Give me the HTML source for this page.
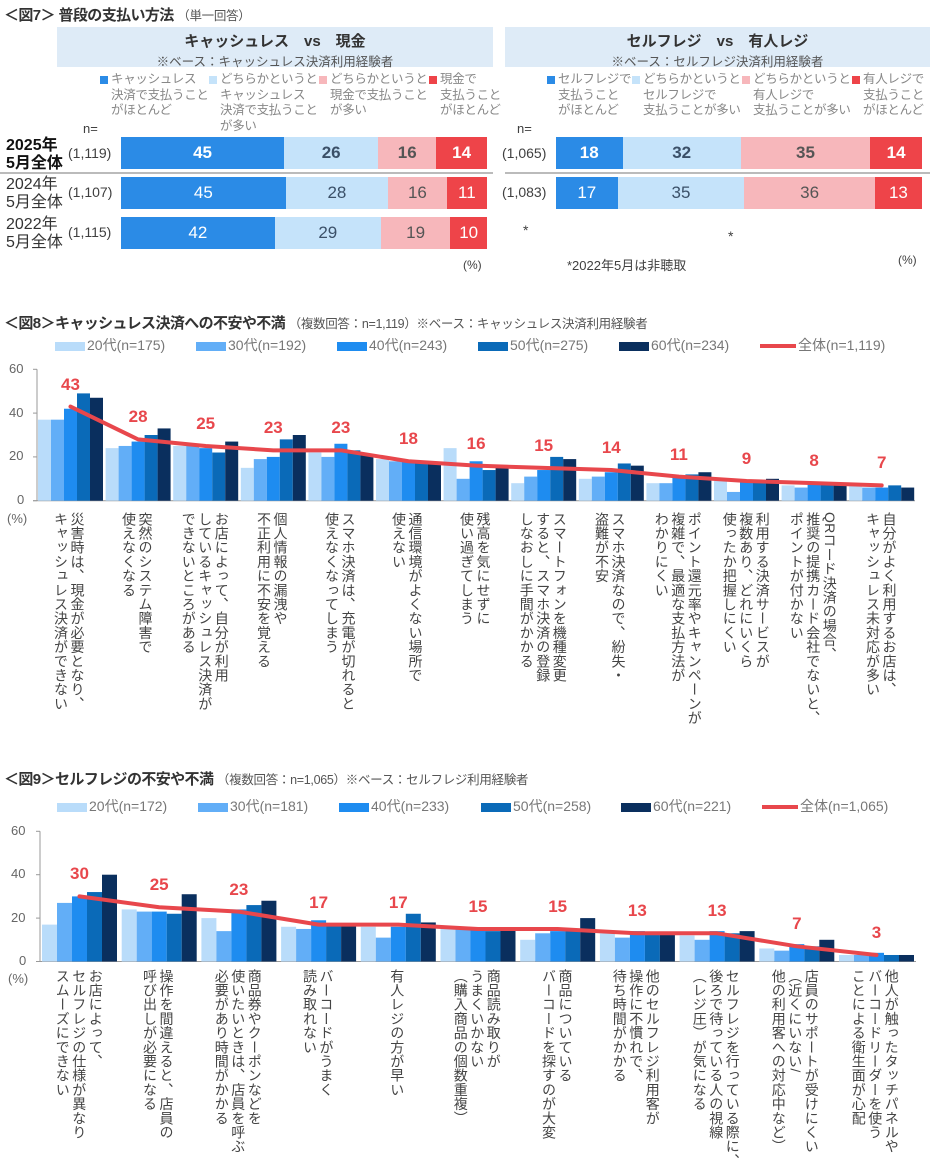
<!DOCTYPE html>
<html><head><meta charset="utf-8">
<style>
*{margin:0;padding:0;box-sizing:border-box}
body{width:934px;height:1169px;background:#fff;position:relative;overflow:hidden;font-family:"Liberation Sans","Noto Sans CJK JP",sans-serif;color:#404040}
.a{position:absolute;white-space:nowrap}
.t{font-weight:bold;font-size:15px;color:#333;letter-spacing:-0.6px}
.t small{font-weight:normal;font-size:12.5px;color:#555;letter-spacing:-0.3px}
.hdr{position:absolute;background:#deebf7;text-align:center;color:#333}
.hdr b{display:block;font-size:15px;margin-top:3px}
.hdr span{display:block;font-size:12.5px;color:#555}
.lg7{position:absolute;font-size:12.5px;line-height:15.5px;color:#888;white-space:pre;letter-spacing:-0.3px}
.lg7 i{position:absolute;left:-11px;top:4px;width:8px;height:8px}
.bar{position:absolute;display:flex;height:32px}
.bar div{height:100%;display:flex;align-items:center;justify-content:center;font-size:17px}
.b1{background:#2b8be6;color:#fff}.b2{background:#c5e3fa;color:#3b5068}.b3{background:#f7b7bb;color:#555}.b4{background:#ee4449;color:#fff}
.bold div{font-weight:bold}
.rl{position:absolute;font-size:16px;line-height:18px;color:#333}
.rl b{font-size:16px;display:block;font-weight:normal}
.lg{position:absolute;font-size:14px;color:#777}
.lg i{display:inline-block;width:30px;height:9px;vertical-align:middle;margin-right:2px}
.v{position:absolute;transform:translate(-50%,-50%);font-weight:bold;font-size:17px;color:#e8474c}
.vl{position:absolute;writing-mode:vertical-rl;font-size:14px;line-height:16.5px;color:#444;transform:translateX(-50%);white-space:nowrap;letter-spacing:0.2px}
.ax{position:absolute;font-size:13px;color:#666}
</style></head><body>

<div class="a t" style="left:4px;top:4px">＜図7＞ 普段の支払い方法 <small>（単一回答）</small></div>

<div class="hdr" style="left:57px;top:27px;width:436px;height:40px"><b>キャッシュレス　vs　現金</b><span>※ベース：キャッシュレス決済利用経験者</span></div>
<div class="hdr" style="left:505px;top:27px;width:425px;height:40px"><b>セルフレジ　vs　有人レジ</b><span>※ベース：セルフレジ決済利用経験者</span></div>

<div class="lg7" style="left:111px;top:72px"><i style="background:#2b8be6"></i>キャッシュレス
決済で支払うこと
がほとんど</div>
<div class="lg7" style="left:220px;top:72px"><i style="background:#c5e3fa"></i>どちらかというと
キャッシュレス
決済で支払うこと
が多い</div>
<div class="lg7" style="left:330px;top:72px"><i style="background:#f7b7bb"></i>どちらかというと
現金で支払うこと
が多い</div>
<div class="lg7" style="left:440px;top:72px"><i style="background:#ee4449"></i>現金で
支払うこと
がほとんど</div>

<div class="lg7" style="left:558px;top:72px"><i style="background:#2b8be6"></i>セルフレジで
支払うこと
がほとんど</div>
<div class="lg7" style="left:643px;top:72px"><i style="background:#c5e3fa"></i>どちらかというと
セルフレジで
支払うことが多い</div>
<div class="lg7" style="left:753px;top:72px"><i style="background:#f7b7bb"></i>どちらかというと
有人レジで
支払うことが多い</div>
<div class="lg7" style="left:863px;top:72px"><i style="background:#ee4449"></i>有人レジで
支払うこと
がほとんど</div>

<div class="a" style="left:83px;top:121px;font-size:13px">n=</div>
<div class="a" style="left:517px;top:121px;font-size:13px">n=</div>

<div class="rl" style="left:6px;top:137px;color:#111"><b style="font-weight:bold">2025年</b><b style="font-weight:bold">5月全体</b></div>
<div class="rl" style="left:6px;top:176px"><b>2024年</b><b>5月全体</b></div>
<div class="rl" style="left:6px;top:216px"><b>2022年</b><b>5月全体</b></div>
<div class="a" style="left:68px;top:145px;font-size:14px">(1,119)</div>
<div class="a" style="left:68px;top:184px;font-size:14px">(1,107)</div>
<div class="a" style="left:68px;top:224px;font-size:14px">(1,115)</div>
<div class="a" style="left:502px;top:145px;font-size:14px">(1,065)</div>
<div class="a" style="left:502px;top:184px;font-size:14px">(1,083)</div>

<div class="a" style="left:0;top:172px;width:493px;height:2px;background:#bbb"></div>
<div class="a" style="left:505px;top:172px;width:425px;height:2px;background:#bbb"></div>

<div class="bar bold" style="left:121px;top:137px;width:366px"><div class="b1" style="width:44.55%">45</div><div class="b2" style="width:25.74%">26</div><div class="b3" style="width:15.84%">16</div><div class="b4" style="width:13.87%">14</div></div>
<div class="bar" style="left:121px;top:177px;width:366px"><div class="b1" style="width:45%">45</div><div class="b2" style="width:28%">28</div><div class="b3" style="width:16%">16</div><div class="b4" style="width:11%">11</div></div>
<div class="bar" style="left:121px;top:217px;width:366px"><div class="b1" style="width:42%">42</div><div class="b2" style="width:29%">29</div><div class="b3" style="width:19%">19</div><div class="b4" style="width:10%">10</div></div>

<div class="bar bold" style="left:556px;top:137px;width:366px"><div class="b1" style="width:18.18%">18</div><div class="b2" style="width:32.32%">32</div><div class="b3" style="width:35.36%">35</div><div class="b4" style="width:14.14%">14</div></div>
<div class="bar" style="left:556px;top:177px;width:366px"><div class="b1" style="width:16.83%">17</div><div class="b2" style="width:34.65%">35</div><div class="b3" style="width:35.65%">36</div><div class="b4" style="width:12.87%">13</div></div>

<div class="a" style="left:523px;top:222px;font-size:14px">*</div>
<div class="a" style="left:728px;top:228px;font-size:14px">*</div>
<div class="a" style="left:567px;top:255px;font-size:13px">*2022年5月は非聴取</div>
<div class="a" style="left:463px;top:258px;font-size:12px">(%)</div>
<div class="a" style="left:898px;top:253px;font-size:12px">(%)</div>

<!-- Chart 8 -->
<div class="a t" style="left:4px;top:312px">＜図8＞キャッシュレス決済への不安や不満 <small>（複数回答：n=1,119）※ベース：キャッシュレス決済利用経験者</small></div>
<div class="lg" style="left:55px;top:335px"><i style="background:#b9dcfa"></i>20代(n=175)</div>
<div class="lg" style="left:196px;top:335px"><i style="background:#62aef7"></i>30代(n=192)</div>
<div class="lg" style="left:337px;top:335px"><i style="background:#1e8cf0"></i>40代(n=243)</div>
<div class="lg" style="left:478px;top:335px"><i style="background:#0a6ab8"></i>50代(n=275)</div>
<div class="lg" style="left:619px;top:335px"><i style="background:#0a2f5e"></i>60代(n=234)</div>
<div class="lg" style="left:760px;top:335px"><i style="background:#e8474c;height:4px;width:36px"></i>全体(n=1,119)</div>

<div class="ax" style="left:9px;top:361px">60</div>
<div class="ax" style="left:9px;top:405px">40</div>
<div class="ax" style="left:9px;top:448px">20</div>
<div class="ax" style="left:17px;top:492px">0</div>
<div class="ax" style="left:7px;top:511px">(%)</div>

<svg class="a" style="left:0;top:0" width="934" height="1169" id="sv"></svg>

<div class="v" style="left:70.5px;top:384.5px">43</div>
<div class="v" style="left:138.1px;top:417.4px">28</div>
<div class="v" style="left:205.7px;top:424px">25</div>
<div class="v" style="left:273.3px;top:428.3px">23</div>
<div class="v" style="left:340.9px;top:428.3px">23</div>
<div class="v" style="left:408.5px;top:439.3px">18</div>
<div class="v" style="left:476.1px;top:443.7px">16</div>
<div class="v" style="left:543.7px;top:445.9px">15</div>
<div class="v" style="left:611.3px;top:448px">14</div>
<div class="v" style="left:678.9px;top:454.6px">11</div>
<div class="v" style="left:746.5px;top:459px">9</div>
<div class="v" style="left:814.1px;top:461.2px">8</div>
<div class="v" style="left:881.7px;top:463.4px">7</div>

<div class="vl" style="left:69px;top:512px">災害時は、現金が必要となり、<br>キャッシュレス決済ができない</div>
<div class="vl" style="left:137px;top:512px">突然のシステム障害で<br>使えなくなる</div>
<div class="vl" style="left:205px;top:512px">お店によって、自分が利用<br>しているキャッシュレス決済が<br>できないところがある</div>
<div class="vl" style="left:272px;top:512px">個人情報の漏洩や<br>不正利用に不安を覚える</div>
<div class="vl" style="left:340px;top:512px">スマホ決済は、充電が切れると<br>使えなくなってしまう</div>
<div class="vl" style="left:407px;top:512px">通信環境がよくない場所で<br>使えない</div>
<div class="vl" style="left:475px;top:512px">残高を気にせずに<br>使い過ぎてしまう</div>
<div class="vl" style="left:543px;top:512px">スマートフォンを機種変更<br>すると、スマホ決済の登録<br>しなおしに手間がかかる</div>
<div class="vl" style="left:610px;top:512px">スマホ決済なので、紛失・<br>盗難が不安</div>
<div class="vl" style="left:678px;top:512px">ポイント還元率やキャンペーンが<br>複雑で、最適な支払方法が<br>わかりにくい</div>
<div class="vl" style="left:746px;top:512px">利用する決済サービスが<br>複数あり、どれにいくら<br>使ったか把握しにくい</div>
<div class="vl" style="left:813px;top:512px">QRコード決済の場合、<br>推奨の提携カード会社でないと、<br>ポイントが付かない</div>
<div class="vl" style="left:881px;top:512px">自分がよく利用するお店は、<br>キャッシュレス未対応が多い</div>

<!-- Chart 9 -->
<div class="a t" style="left:4px;top:768px">＜図9＞セルフレジの不安や不満 <small>（複数回答：n=1,065）※ベース：セルフレジ利用経験者</small></div>
<div class="lg" style="left:57px;top:796px"><i style="background:#b9dcfa"></i>20代(n=172)</div>
<div class="lg" style="left:198px;top:796px"><i style="background:#62aef7"></i>30代(n=181)</div>
<div class="lg" style="left:339px;top:796px"><i style="background:#1e8cf0"></i>40代(n=233)</div>
<div class="lg" style="left:481px;top:796px"><i style="background:#0a6ab8"></i>50代(n=258)</div>
<div class="lg" style="left:621px;top:796px"><i style="background:#0a2f5e"></i>60代(n=221)</div>
<div class="lg" style="left:762px;top:796px"><i style="background:#e8474c;height:4px;width:36px"></i>全体(n=1,065)</div>

<div class="ax" style="left:11px;top:823px">60</div>
<div class="ax" style="left:11px;top:866px">40</div>
<div class="ax" style="left:11px;top:910px">20</div>
<div class="ax" style="left:19px;top:953px">0</div>
<div class="ax" style="left:8px;top:971px">(%)</div>

<div class="v" style="left:79.5px;top:874.4px">30</div>
<div class="v" style="left:159.2px;top:885.2px">25</div>
<div class="v" style="left:238.9px;top:889.6px">23</div>
<div class="v" style="left:318.6px;top:902.6px">17</div>
<div class="v" style="left:398.3px;top:902.6px">17</div>
<div class="v" style="left:478px;top:906.9px">15</div>
<div class="v" style="left:557.7px;top:906.9px">15</div>
<div class="v" style="left:637.4px;top:911.3px">13</div>
<div class="v" style="left:717.1px;top:911.3px">13</div>
<div class="v" style="left:796.8px;top:924.3px">7</div>
<div class="v" style="left:876.5px;top:933px">3</div>

<div class="vl" style="left:79px;top:969px">お店によって、<br>セルフレジの仕様が異なり<br>スムーズにできない</div>
<div class="vl" style="left:158px;top:969px">操作を間違えると、店員の<br>呼び出しが必要になる</div>
<div class="vl" style="left:238px;top:969px">商品券やクーポンなどを<br>使いたいときは、店員を呼ぶ<br>必要があり時間がかかる</div>
<div class="vl" style="left:318px;top:969px">バーコードがうまく<br>読み取れない</div>
<div class="vl" style="left:397px;top:969px">有人レジの方が早い</div>
<div class="vl" style="left:477px;top:969px">商品読み取りが<br>うまくいかない<br>（購入商品の個数重複）</div>
<div class="vl" style="left:557px;top:969px">商品についている<br>バーコードを探すのが大変</div>
<div class="vl" style="left:636px;top:969px">他のセルフレジ利用客が<br>操作に不慣れで、<br>待ち時間がかかる</div>
<div class="vl" style="left:716px;top:969px">セルフレジを行っている際に、<br>後ろで待っている人の視線<br>（レジ圧）が気になる</div>
<div class="vl" style="left:795px;top:969px">店員のサポートが受けにくい<br>（近くにいない/<br>他の利用客への対応中など）</div>
<div class="vl" style="left:875px;top:969px">他人が触ったタッチパネルや<br>バーコードリーダーを使う<br>ことによる衛生面が心配</div>

<script>
(function(){
var sv=document.getElementById('sv'),NS='http://www.w3.org/2000/svg';
var cols=['#b9dcfa','#62aef7','#1e8cf0','#0a6ab8','#0a2f5e'];
function el(n,a){var e=document.createElementNS(NS,n);for(var k in a)e.setAttribute(k,a[k]);sv.appendChild(e);return e;}
function chart(o){
  el('line',{x1:o.ax,y1:o.y0,x2:o.ax,y2:o.y0-60*o.s,stroke:'#999','stroke-width':1});
  for(var t=0;t<=60;t+=20)el('line',{x1:o.ax-4,y1:o.y0-t*o.s,x2:o.ax,y2:o.y0-t*o.s,stroke:'#999'});
  el('line',{x1:o.ax-4,y1:o.y0,x2:o.xe,y2:o.y0,stroke:'#999'});
  var pts=[];
  o.d.forEach(function(g,i){
    var x0=o.x+i*o.p;
    g.forEach(function(v,j){el('rect',{x:x0+j*o.bw,y:o.y0-v*o.s,width:o.bw,height:v*o.s,fill:cols[j]});});
    pts.push((x0+2.5*o.bw)+','+(o.y0-o.tot[i]*o.s));
  });
  el('polyline',{points:pts.join(' '),fill:'none',stroke:'#e8474c','stroke-width':4,'stroke-linejoin':'round','stroke-linecap':'round'});
}
chart({ax:37,xe:915,y0:500.7,s:2.19,x:38,p:67.6,bw:13,
 d:[[37,37,42,49,47],[24,25,27,30,33],[25,25,24,22,27],[15,19,20,28,30],[22,20,26,23,21],[19,18,18,18,17],[24,10,18,14,15],[8,11,14,20,19],[10,11,13,17,16],[8,8,11,12,13],[9,4,9,9,10],[7,6,8,8,8],[7,6,6,7,6]],
 tot:[43,28,25,23,23,18,16,15,14,11,9,8,7]});
chart({ax:40,xe:916,y0:961.5,s:2.17,x:42,p:79.7,bw:15,
 d:[[17,27,30,32,40],[24,23,23,22,31],[20,14,24,26,28],[16,15,19,17,17],[16,11,16,22,18],[15,15,15,14,15],[10,13,14,14,20],[13,11,14,13,13],[12,10,14,13,14],[6,5,8,7,10],[3,3,4,3,3]],
 tot:[30,25,23,17,17,15,15,13,13,7,3]});
})();
</script>
</body></html>
